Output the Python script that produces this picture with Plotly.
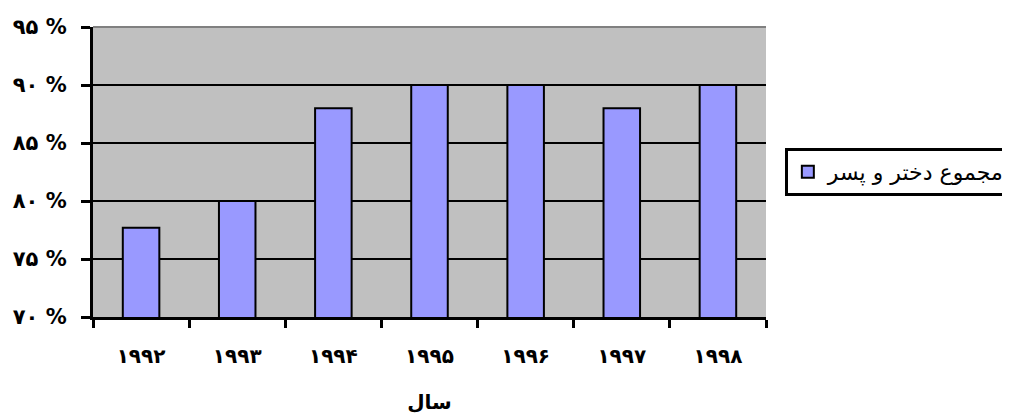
import plotly.graph_objects as go

years = ["۱۹۹۲", "۱۹۹۳", "۱۹۹۴", "۱۹۹۵", "۱۹۹۶", "۱۹۹۷", "۱۹۹۸"]
values = [77.7, 80, 88, 90, 90, 88, 90]
series_name = "مجموع دختر و پسر"
y_tick_vals = [70, 75, 80, 85, 90, 95]
y_tick_text = ["۷۰ %", "۷۵ %", "۸۰ %", "۸۵ %", "۹۰ %", "۹۵ %"]
x_title = "سال"

fig = go.Figure()
fig.add_trace(go.Bar(
    x=years, y=values, name=series_name,
    marker=dict(color="#9999FF", line=dict(color="black", width=2)),
    showlegend=True,
))

font_family = "DejaVu Sans"
fig.update_layout(
    width=1010, height=414,
    margin=dict(l=85, r=252, t=19, b=105, autoexpand=False),
    paper_bgcolor="white", plot_bgcolor="#C0C0C0",
    bargap=0.62,
    font=dict(family=font_family, color="black"),
    legend=dict(
        x=1.028, y=0.5, xanchor="left", yanchor="middle",
        bordercolor="black", borderwidth=3, bgcolor="white",
        font=dict(size=22, family=font_family),
        itemwidth=30,
    ),
    showlegend=True,
)
fig.update_xaxes(
    type="category", automargin=False,
    showline=True, linecolor="black", linewidth=3,
    ticks="outside", tickson="boundaries", ticklen=8, tickwidth=3, tickcolor="black",
    tickfont=dict(size=20, family=font_family, weight="bold"),
    ticklabelstandoff=19,
    showgrid=False,
    title=dict(text=x_title, font=dict(size=20, family=font_family, weight="bold"), standoff=28),
)
fig.update_yaxes(
    range=[70, 95], automargin=False,
    tickvals=y_tick_vals, ticktext=y_tick_text,
    showline=True, linecolor="black", linewidth=3,
    ticks="outside", ticklen=9, tickwidth=3, tickcolor="black",
    tickfont=dict(size=21, family=font_family, weight="bold"),
    ticklabelstandoff=10,
    showgrid=True, gridcolor="black", gridwidth=2,
    zeroline=False,
)
fig.add_shape(type="line", xref="paper", yref="paper", x0=0, x1=1, y0=1, y1=1,
              line=dict(color="#808080", width=2))
fig.write_html("out.html")
